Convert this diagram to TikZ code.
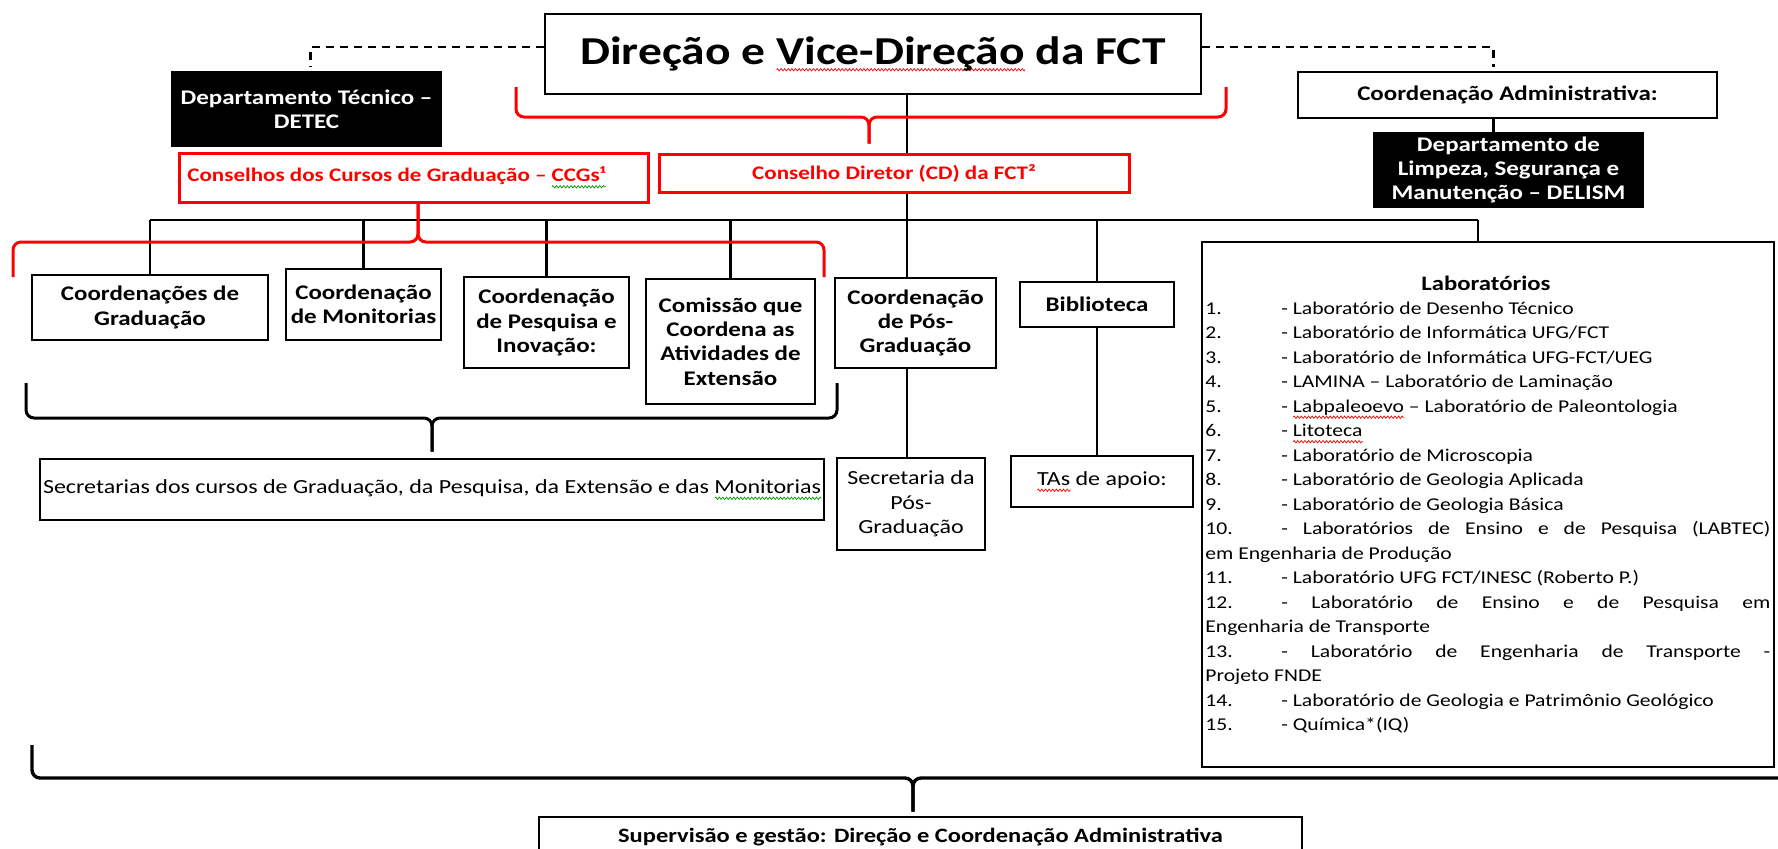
\documentclass[tikz,border=0pt]{standalone}
\usepackage{fontspec}
\setmainfont{Carlito}[FakeStretch=1.2]
\usetikzlibrary{backgrounds,decorations.pathmorphing}
\newsavebox\wavebox
\newcommand\spellwave[2]{\sbox\wavebox{#2}\rlap{\tikz[baseline=0pt,x=1pt,y=1pt]\draw[#1,line width=0.35pt,decorate,decoration={zigzag,amplitude=0.6pt,segment length=1.8pt}] (0,-2.6) -- (\wd\wavebox,-2.6);}\usebox\wavebox}
\newcommand\redwave[1]{\spellwave{red}{#1}}
\newcommand\greenwave[1]{\spellwave{green!60!black}{#1}}

\begin{document}
\begin{tikzpicture}[x=0.5pt,y=-0.5pt,
  box/.style={draw,line width=1.4pt,fill=white,inner sep=0pt,align=center,font=\fontsize{10.4}{12.2}\selectfont\bfseries},
  plainbox/.style={box,font=\fontsize{10}{12.2}\selectfont},
  darkbox/.style={box,fill=black,text=white},
  redbox/.style={box,draw=red,text=red,line width=1.5pt,font=\fontsize{9.6}{12}\selectfont\bfseries},
  link/.style={line width=1.1pt},
  dashlink/.style={line width=1.1pt,dash pattern=on 4pt off 3pt},
  brace/.style={line width=1.5pt,rounded corners=4pt},
  labline/.style={anchor=base west,inner sep=0pt,font=\fontsize{9}{12}\selectfont}]

  \def\pix{0.5pt};

  \useasboundingbox (0,0) rectangle (1778,848);
  \clip (0,0) rectangle (1778,848);

  %top
  \node[box,font=\fontsize{19.8}{23}\selectfont\bfseries,minimum width=656*\pix,minimum height=80*\pix] (dir) at (873,54) {Direção e \redwave{Vice-Direção} da FCT};
  \node[darkbox,minimum width=269*\pix,minimum height=74*\pix] (detec) at (306.5,109) {Departamento Técnico --\\DETEC};
  \node[box,minimum width=419*\pix,minimum height=46*\pix] (cadm) at (1507.5,95) {Coordenação Administrativa:};
  \node[darkbox,minimum width=269*\pix,minimum height=74*\pix] (delism) at (1508.5,170) {Departamento de\\Limpeza, Segurança e\\Manutenção -- DELISM};
  \node[redbox,minimum width=469*\pix,minimum height=49*\pix] (ccg) at (413.5,177.5) {Conselhos dos Cursos de Graduação -- \greenwave{CCGs¹}\hspace*{17pt}};
  \node[redbox,minimum width=470*\pix,minimum height=38*\pix] (cd) at (894,173) {Conselho Diretor (CD) da FCT²};

  %coordinations
  \node[box,minimum width=236*\pix,minimum height=65*\pix] (cgrad) at (150,307.5) {Coordenações de\\Graduação};
  \node[box,minimum width=155*\pix,minimum height=71*\pix] (cmon) at (363.5,304.5) {Coordenação\\de Monitorias};
  \node[box,minimum width=165*\pix,minimum height=91*\pix] (cpesq) at (546.5,322.5) {Coordenação\\de Pesquisa e\\Inovação:};
  \node[box,minimum width=169*\pix,minimum height=125*\pix] (cext) at (730.5,341.5) {Comissão que\\Coordena as\\Atividades de\\Extensão};
  \node[box,minimum width=161*\pix,minimum height=90*\pix] (cpos) at (915.5,323) {Coordenação\\de Pós-\\Graduação};
  \node[box,minimum width=154*\pix,minimum height=45*\pix] (bib) at (1097,304.5) {Biblioteca};
  \node[box,minimum width=572*\pix,minimum height=525*\pix] (labs) at (1488,504.5) {};

  %secretaries
  \node[plainbox,minimum width=784*\pix,minimum height=61*\pix] (secgrad) at (432,489.5) {Secretarias dos cursos de Graduação, da Pesquisa, da Extensão e das \greenwave{Monitorias}};
  \node[plainbox,minimum width=148*\pix,minimum height=92*\pix] (secpos) at (911,504) {Secretaria da\\Pós-\\Graduação};
  \node[plainbox,minimum width=182*\pix,minimum height=51*\pix] (tas) at (1102,481.5) {\redwave{TAs} de apoio:};
  \node[box,font=\fontsize{10.2}{12}\selectfont\bfseries,minimum width=763*\pix,minimum height=40*\pix] (sup) at (920.5,837) {Supervisão e gestão: Direção e Coordenação Administrativa};

  %labs list
  \node[anchor=base,inner sep=0pt,font=\fontsize{10.3}{12.2}\selectfont\bfseries] (labtit) at (1486,290) {Laboratórios};
  \foreach \k/\num/\txt in {0/1./- Laboratório de Desenho Técnico,
      1/2./{- Laboratório de Informática UFG/FCT},
      2/3./{- Laboratório de Informática UFG-FCT/UEG},
      3/4./- LAMINA -- Laboratório de Laminação,
      4/5./- \redwave{Labpaleoevo} -- Laboratório de Paleontologia,
      5/6./- \redwave{Litoteca},
      6/7./- Laboratório de Microscopia,
      7/8./- Laboratório de Geologia Aplicada,
      8/9./- Laboratório de Geologia Básica,
      9/10./\makebox[244.5pt][s]{- Laboratórios de Ensino e de Pesquisa (LABTEC)},
      10/em Engenharia de Produção/,
      11/11./{- Laboratório UFG FCT/INESC (Roberto P.)},
      12/12./\makebox[244.5pt][s]{- Laboratório de Ensino e de Pesquisa em},
      13/Engenharia de Transporte/,
      14/13./\makebox[244.5pt][s]{- Laboratório de Engenharia de Transporte -},
      15/Projeto FNDE/,
      16/14./- Laboratório de Geologia e Patrimônio Geológico,
      17/15./- Química*(IQ)}{
    \node[labline] (labn\k) at (1205,{314+24.5*\k}) {\num};
    \node[labline] (labt\k) at (1281,{314+24.5*\k}) {\txt};
  }

  %lines
  \begin{scope}[on background layer]
    \coordinate (spine) at (907,0);
    \coordinate (busL) at (150,220);
    \coordinate (busR) at (1478,220);
    \draw[link] (dir.south -| spine) -- (cpos.north -| spine);
    \draw[link] (busL) -- (busR);
    \foreach \n in {cgrad,cmon,cpesq,cext,bib}{
      \draw[link] (\n.north) -- (\n.north |- busL);
    }
    \draw[link] (busR) -- (busR |- labs.north);
    \draw[link] (cpos.south -| spine) -- (secpos.north -| spine);
    \draw[link] (bib.south) -- (bib.south |- tas.north);
  \end{scope}

  \coordinate (admx) at ([xshift=-7pt]cadm.south);
  \draw[dashlink] ([yshift=3.5pt]dir.west) -| ([xshift=2pt,yshift=2pt]detec.north);
  \draw[dashlink] ([yshift=3.5pt]dir.east) -| ([xshift=-7pt,yshift=2pt]cadm.north);
  \draw[link] (admx) -- (admx |- delism.north);

  %braces
  \coordinate (rbL) at (516,87); \coordinate (rbR) at (1226,87); \coordinate (rbT) at (869,117);
  \draw[brace,red,shorten >=4.5pt] (rbL) |- (rbT) -- (rbT |- cd.north);
  \draw[brace,red,shorten >=4.5pt] (rbR) |- (rbT) -- (rbT |- cd.north);

  \coordinate (gbL) at (13,277); \coordinate (gbR) at (824,277); \coordinate (gbT) at (418,242);
  \draw[brace,red] (gbL) |- (gbT) -- (gbT |- ccg.south);
  \draw[brace,red] (gbR) |- (gbT) -- (gbT |- ccg.south);

  \coordinate (kbL) at (26,383); \coordinate (kbR) at (837,383); \coordinate (kbT) at (432,418);
  \draw[brace,shorten >=3pt] (kbL) |- (kbT) -- (kbT |- secgrad.north);
  \draw[brace,shorten >=3pt] (kbR) |- (kbT) -- (kbT |- secgrad.north);

  \coordinate (bbL) at (32,745); \coordinate (bbR) at (1800,745); \coordinate (bbT) at (913,778);
  \draw[brace,line width=1.7pt,shorten >=2pt] (bbL) |- (bbT) -- (bbT |- sup.north);
  \draw[brace,line width=1.7pt,shorten >=2pt] (bbR) |- (bbT) -- (bbT |- sup.north);

\end{tikzpicture}
\end{document}
